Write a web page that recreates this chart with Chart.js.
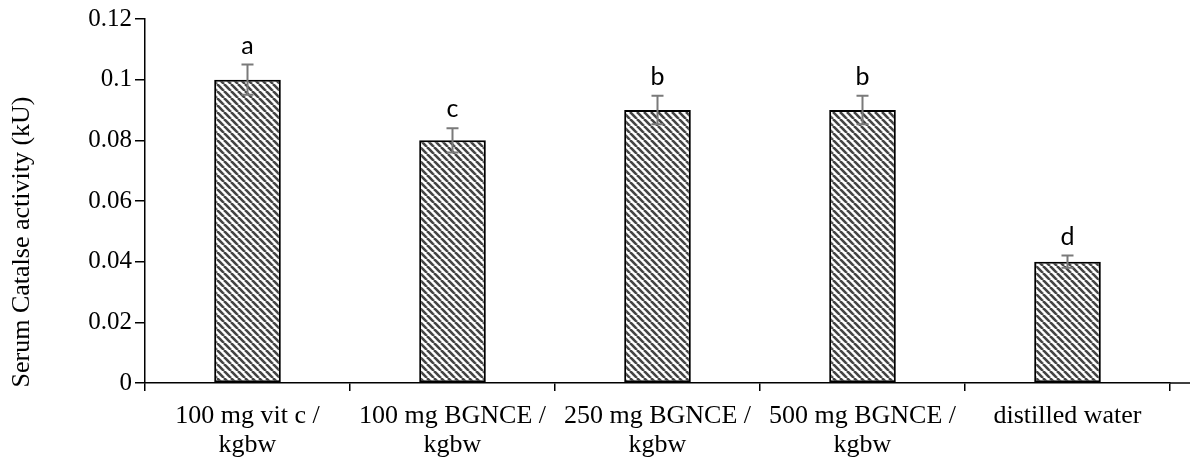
<!DOCTYPE html>
<html>
<head>
<meta charset="utf-8">
<script src="https://cdn.jsdelivr.net/npm/chart.js@4"></script>
<style>
    html, body { margin: 0; padding: 0; background: #fff; }
    #wrap { width: 1190px; height: 463px; position: relative; }
</style>
</head>
<body>
<div id="wrap"><canvas id="chart"></canvas></div>
<script>
const categories = [
    ['100 mg vit c /', 'kgbw'],
    ['100 mg BGNCE /', 'kgbw'],
    ['250 mg BGNCE /', 'kgbw'],
    ['500 mg BGNCE /', 'kgbw'],
    'distilled water'
];
const activity = [0.1, 0.08, 0.09, 0.09, 0.04];
const errors = [0.005, 0.004, 0.0047, 0.0047, 0.002];
const letters = ['a', 'c', 'b', 'b', 'd'];
const yTicks = [0, 0.02, 0.04, 0.06, 0.08, 0.1, 0.12];
const yTitle = 'Serum Catalse activity (kU)';

const serif = '"Liberation Serif", "Times New Roman", serif';

function makeHatch() {
    const size = 7;
    const c = document.createElement('canvas');
    c.width = size;
    c.height = size;
    const ctx = c.getContext('2d');
    ctx.fillStyle = '#ffffff';
    ctx.fillRect(0, 0, size, size);
    ctx.strokeStyle = '#444444';
    ctx.lineWidth = 2.6;
    for (let k = -1; k <= 1; k++) {
        ctx.beginPath();
        ctx.moveTo(k * size, 0);
        ctx.lineTo(k * size + size, size);
        ctx.stroke();
    }
    return ctx.createPattern(c, 'repeat');
}

const errorBars = {
    id: 'errorBars',
    afterDatasetsDraw(chart) {
        const ctx = chart.ctx;
        const y = chart.scales.y;
        const meta = chart.getDatasetMeta(0);
        ctx.save();
        meta.data.forEach((bar, i) => {
            const top = y.getPixelForValue(activity[i] + errors[i]);
            const bottom = y.getPixelForValue(activity[i] - errors[i]);
            ctx.strokeStyle = '#7a7a7a';
            ctx.lineWidth = 2;
            ctx.beginPath();
            ctx.moveTo(bar.x, top);
            ctx.lineTo(bar.x, bottom);
            ctx.moveTo(bar.x - 6, top);
            ctx.lineTo(bar.x + 6, top);
            ctx.moveTo(bar.x - 6, bottom);
            ctx.lineTo(bar.x + 6, bottom);
            ctx.stroke();

            ctx.fillStyle = '#000';
            ctx.font = '25px Lato, "Open Sans", sans-serif';
            ctx.textAlign = 'center';
            ctx.textBaseline = 'alphabetic';
            ctx.fillText(letters[i], bar.x, top - 11);
        });
        // x axis runs on to the right edge
        const area = chart.chartArea;
        ctx.strokeStyle = '#000';
        ctx.lineWidth = 1.5;
        ctx.beginPath();
        ctx.moveTo(area.right, area.bottom);
        ctx.lineTo(chart.width, area.bottom);
        ctx.stroke();

        // y title, centred on the whole chart height like the original
        ctx.translate(22, 242);
        ctx.rotate(-Math.PI / 2);
        ctx.font = '26px ' + serif;
        ctx.textAlign = 'center';
        ctx.textBaseline = 'middle';
        ctx.fillText(yTitle, 0, 0);
        ctx.restore();
    }
};

new Chart(document.getElementById('chart'), {
    type: 'bar',
    data: {
        labels: categories,
        datasets: [{
            data: activity,
            backgroundColor: makeHatch(),
            borderColor: '#000',
            borderWidth: 2,
            borderSkipped: false,
            barPercentage: 0.325,
            categoryPercentage: 1
        }]
    },
    plugins: [errorBars],
    options: {
        responsive: true,
        maintainAspectRatio: false,
        animation: false,
        layout: { padding: { left: 0, right: 20, top: 19, bottom: 0 } },
        plugins: {
            legend: { display: false },
            tooltip: { enabled: false }
        },
        scales: {
            x: {
                offset: true,
                grid: {
                    offset: true,
                    drawOnChartArea: false,
                    drawTicks: true,
                    tickLength: 8,
                    color: '#000',
                    lineWidth: 1.5
                },
                border: { display: true, color: '#000', width: 1.5 },
                ticks: {
                    color: '#000',
                    padding: 11,
                    maxRotation: 0,
                    autoSkip: false,
                    font: { family: serif, size: 26, lineHeight: 1.1 }
                },
                afterFit(scale) { scale.height = 80; }
            },
            y: {
                min: 0,
                max: 0.12,
                afterBuildTicks(scale) {
                    scale.ticks = yTicks.map((v) => ({ value: v }));
                },
                grid: {
                    drawOnChartArea: false,
                    drawTicks: true,
                    tickLength: 10,
                    color: '#000',
                    lineWidth: 1.5
                },
                border: { display: true, color: '#000', width: 1.5 },
                ticks: {
                    color: '#000',
                    padding: 3,
                    font: { family: serif, size: 25 },
                    callback: (v) => String(Number(v.toFixed(2)))
                },
                afterFit(scale) { scale.width = 145; }
            }
        }
    }
});
</script>
</body>
</html>
